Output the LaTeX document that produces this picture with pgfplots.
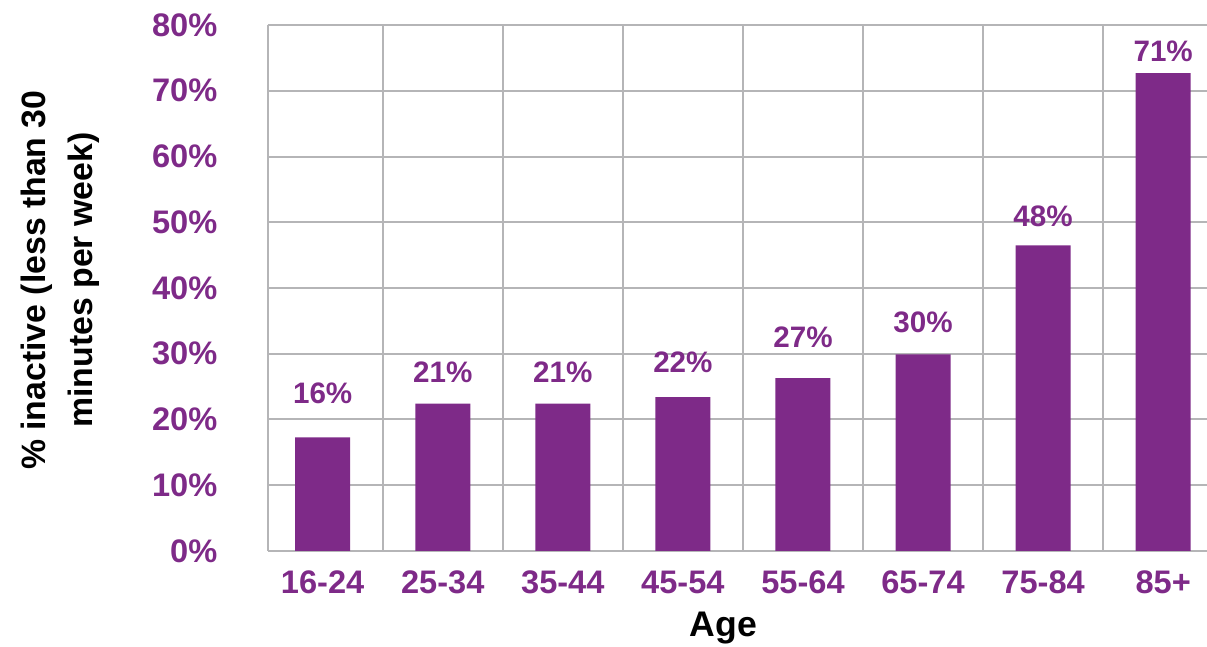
\documentclass[border=0pt]{standalone}
\usepackage{fontspec}
\setmainfont{Liberation Sans}
\usepackage{pgfplots}
\pgfplotsset{compat=1.18}
\usepackage{pgfplotstable}

\definecolor{barpurple}{HTML}{7E2A88}
\definecolor{gridgray}{HTML}{B5B5B7}

% x = category, bar = bar height, ly = label baseline, lab = printed label
\pgfplotstableread{
x bar  ly   lab
0 17.3 22.5 16
1 22.4 25.7 21
2 22.4 25.7 21
3 23.4 27.1 22
4 26.3 30.9 27
5 29.9 33.3 30
6 46.5 49.4 48
7 72.7 74.4 71
}\inactive

\begin{document}
\begin{tikzpicture}
\path[use as bounding box] (-133.85pt,-48pt) rectangle (469.65pt,275.5pt);
\begin{axis}[
    scale only axis,
    width=469.65pt,
    height=263pt,
    xmin=-0.458, xmax=7.365,
    ymin=0, ymax=80,
    axis lines=left,
    axis line style={-, draw=gridgray, line width=1pt},
    xtick={0,...,7},
    xticklabels={16-24,25-34,35-44,45-54,55-64,65-74,75-84,85+},
    minor xtick={0.5,1.5,...,6.5},
    ytick={0,10,...,80},
    yticklabel={\pgfmathprintnumber{\tick}\%},
    /pgf/number format/assume math mode=true,
    major tick length=0pt, minor tick length=0pt,
    ymajorgrids, xminorgrids,
    grid style={draw=gridgray, line width=1pt},
    minor grid style={draw=gridgray, line width=1pt},
    xticklabel style={font=\bfseries\fontsize{16.3}{16.3}\selectfont, text=barpurple,
        anchor=base, inner sep=0pt, yshift=-21.2pt},
    yticklabel style={font=\bfseries\fontsize{16.3}{16.3}\selectfont, text=barpurple,
        anchor=east, inner sep=0pt, xshift=-25pt},
    xlabel={Age},
    xlabel style={font=\bfseries\fontsize{17.8}{17.8}\selectfont, at={(axis description cs:0.4853,0)},
        anchor=base, inner sep=0pt, yshift=-43pt},
    ylabel={\% inactive (less than 30\\minutes per week)},
    ylabel style={font=\bfseries\fontsize{16.9}{23.5}\selectfont, align=center,
        at={(axis description cs:-0.221,0.515)}, anchor=center, inner sep=0pt},
]
\addplot[ybar, bar width=27.5pt, bar shift=0pt, fill=barpurple, draw=none]
    table[x=x, y=bar] {\inactive};
\addplot[draw=none, mark=none, point meta=explicit,
    nodes near coords={\pgfmathprintnumber{\pgfplotspointmeta}\%},
    nodes near coords style={font=\bfseries\fontsize{14.8}{14.8}\selectfont, text=barpurple,
        anchor=base, inner sep=0pt}]
    table[x=x, y=ly, meta=lab] {\inactive};
\end{axis}
\end{tikzpicture}
\end{document}
